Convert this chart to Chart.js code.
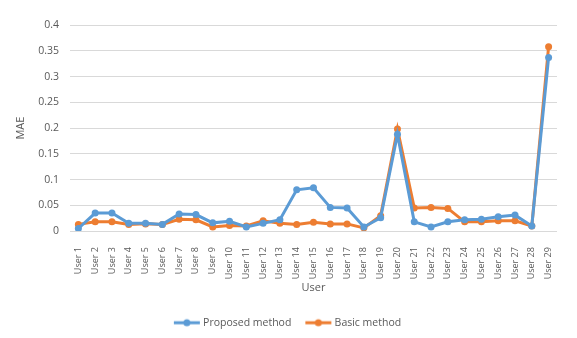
<!DOCTYPE html>
<html>
<head>
<meta charset="utf-8">
<script src="https://cdn.jsdelivr.net/npm/chart.js@4"></script>
<style>
  html, body { margin: 0; padding: 0; background: #fff; }
  #wrap { width: 577px; height: 338px; }
</style>
</head>
<body>
<div id="wrap"><canvas id="chart" width="577" height="338"></canvas></div>
<script>
const users = [];
for (let i = 1; i <= 29; i++) users.push('User ' + i);

const proposed = [0.005, 0.035, 0.035, 0.015, 0.015, 0.013, 0.033, 0.032, 0.016, 0.019,
                  0.008, 0.015, 0.022, 0.080, 0.084, 0.046, 0.045, 0.008, 0.026, 0.188,
                  0.018, 0.008, 0.018, 0.022, 0.023, 0.028, 0.031, 0.010, 0.337];
const basic = [0.013, 0.018, 0.018, 0.013, 0.014, 0.013, 0.023, 0.022, 0.008, 0.011,
               0.010, 0.020, 0.015, 0.013, 0.017, 0.014, 0.014, 0.006, 0.030, 0.198,
               0.045, 0.046, 0.044, 0.018, 0.018, 0.020, 0.020, 0.010, 0.358];

const blue = '#5B9BD5';
const orange = '#ED7D31';
const grey = '#595959';

// legend marker: short line with a dot in the middle
function legendMark(color) {
    const c = document.createElement('canvas');
    c.width = 28; c.height = 10;
    const g = c.getContext('2d');
    g.strokeStyle = color; g.lineWidth = 3;
    g.beginPath(); g.moveTo(1, 5); g.lineTo(27, 5); g.stroke();
    g.fillStyle = color;
    g.beginPath(); g.arc(14, 5, 3.5, 0, Math.PI * 2); g.fill();
    return c;
}
const marks = [legendMark(blue), legendMark(orange)];

// center the legend on the whole canvas, not on the padded area
const centerLegend = {
    id: 'centerLegend',
    afterLayout(chart) {
        const lg = chart.legend;
        const shift = (chart.width - (lg.left + lg.right)) / 2;
        lg.left += shift;
        lg.right += shift;
    }
};

Chart.defaults.font.family = '"Open Sans", "Noto Sans", sans-serif';
Chart.defaults.color = grey;

const ctx = document.getElementById('chart').getContext('2d');
new Chart(ctx, {
    type: 'line',
    data: {
        labels: users,
        datasets: [{
            label: 'Proposed method',
            data: proposed,
            borderColor: blue,
            backgroundColor: blue,
            borderWidth: 3,
            pointRadius: 3.5,
            pointBackgroundColor: blue,
            pointBorderWidth: 0,
            tension: 0
        }, {
            label: 'Basic method',
            data: basic,
            borderColor: orange,
            backgroundColor: orange,
            borderWidth: 3,
            pointRadius: 3.5,
            pointBackgroundColor: orange,
            pointBorderWidth: 0,
            tension: 0
        }]
    },
    options: {
        responsive: false,
        animation: false,
        layout: { padding: { top: 25, right: 20, left: 0, bottom: 0 } },
        plugins: {
            legend: {
                position: 'bottom',
                labels: {
                    usePointStyle: true,
                    pointStyleWidth: 22,
                    padding: 16,
                    font: { size: 10.5 },
                    color: grey,
                    generateLabels: chart => chart.data.datasets.map((ds, i) => ({
                        text: ds.label,
                        pointStyle: marks[i],
                        fillStyle: ds.borderColor,
                        strokeStyle: ds.borderColor,
                        lineWidth: 0,
                        datasetIndex: i,
                        fontColor: grey
                    }))
                }
            },
            tooltip: { enabled: false }
        },
        scales: {
            y: {
                min: 0,
                max: 0.4,
                ticks: {
                    stepSize: 0.05,
                    font: { size: 10.5 },
                    color: grey,
                    padding: 11,
                    callback: v => String(+v.toFixed(2))
                },
                grid: { color: '#d9d9d9', drawTicks: false, lineWidth: 1 },
                border: { display: false },
                title: { display: true, text: 'MAE', font: { size: 11 }, color: grey, padding: { top: 14, bottom: 0 } }
            },
            x: {
                offset: true,
                grid: { display: false },
                border: { display: false },
                ticks: { minRotation: 90, maxRotation: 90, autoSkip: false, font: { size: 9 }, color: grey, padding: 8 },
                title: { display: true, text: 'User', font: { size: 11 }, color: grey, padding: { top: -6, bottom: 7 } }
            }
        }
    },
    plugins: [centerLegend]
});
</script>
</body>
</html>
